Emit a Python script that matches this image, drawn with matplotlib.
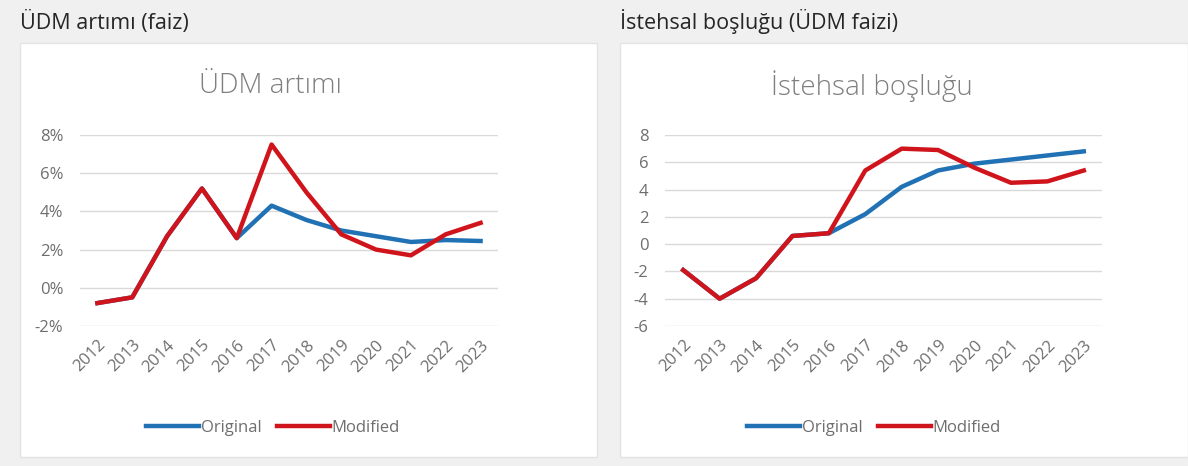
import numpy as np
import matplotlib.pyplot as plt
from matplotlib.patches import Rectangle

years = ["2012", "2013", "2014", "2015", "2016", "2017", "2018", "2019", "2020", "2021", "2022", "2023"]

# UDM artimi (%)
gdp_original = [-0.8, -0.5, 2.7, 5.2, 2.6, 4.3, 3.55, 3.0, 2.7, 2.4, 2.5, 2.45]
gdp_modified = [-0.8, -0.5, 2.7, 5.2, 2.6, 7.5, 5.0, 2.8, 2.0, 1.7, 2.8, 3.4]

# Istehsal boslugu
gap_original = [-1.9, -4.0, -2.5, 0.6, 0.8, 2.2, 4.2, 5.4, 5.9, 6.2, 6.5, 6.8]
gap_modified = [-1.9, -4.0, -2.5, 0.6, 0.8, 5.4, 7.0, 6.9, 5.6, 4.5, 4.6, 5.4]

BLUE = "#2171b5"
RED = "#d0141c"
GRID = "#d9d9d9"
TXT = "#6e6e6e"

plt.rcParams['font.family'] = ['Open Sans', 'DejaVu Sans']

W, H = 1188, 466
fig = plt.figure(figsize=(W / 100, H / 100), dpi=100)
fig.patch.set_facecolor("#f0f0f0")


def px_box(x0, y0, x1, y1):
    # pixel box (top-left origin) -> figure fraction rect
    return [x0 / W, 1 - y1 / H, (x1 - x0) / W, (y1 - y0) / H]


# white panels
for x0, x1 in [(20, 597), (620, 1188)]:
    l, b, w, h = px_box(x0, 43, x1, 457)
    fig.patches.append(Rectangle((l, b), w, h, transform=fig.transFigure,
                                 facecolor="white", edgecolor="#e3e3e3", lw=1, zorder=-5))

fig.text(20 / W, 1 - 22 / H, "ÜDM artımı (faiz)", fontsize=15.5, color="#262626", va="center", ha="left")
fig.text(620 / W, 1 - 22 / H, "İstehsal boşluğu (ÜDM faizi)", fontsize=15.5, color="#262626", va="center", ha="left")


def draw(ax, orig, mod, ylim, yticks, fmt, title, title_x, legend_x):
    x = np.arange(len(years))
    ax.set_facecolor("white")
    ax.plot(x, orig, color=BLUE, lw=3.2, label="Original", solid_joinstyle="round", zorder=3)
    ax.plot(x, mod, color=RED, lw=3.2, label="Modified", solid_joinstyle="round", zorder=4)
    ax.set_xlim(-0.5, len(years) - 0.5)
    ax.set_ylim(*ylim)
    ax.set_yticks(yticks)
    ax.set_yticklabels([fmt(v) for v in yticks])
    ax.set_xticks(x)
    ax.set_xticklabels(years, rotation=45, ha="right", va="top", rotation_mode="anchor")
    ax.grid(axis="y", color=GRID, lw=1)
    ax.set_axisbelow(True)
    for s in ax.spines.values():
        s.set_visible(False)
    ax.tick_params(length=0, labelsize=12, colors=TXT)
    ax.tick_params(axis="y", pad=12)
    ax.tick_params(axis="x", pad=8)
    fig.text(title_x / W, 1 - 86 / H, title, fontsize=20, color="#7f7f7f",
             fontweight="light", ha="center", va="center")
    fig.legend(*ax.get_legend_handles_labels(), loc="center", ncol=2,
               bbox_to_anchor=(legend_x / W, 1 - 428 / H), frameon=False,
               fontsize=12, handlelength=3.2, handletextpad=0.1, columnspacing=0.9,
               labelcolor=TXT)


ax1 = fig.add_axes(px_box(80, 135, 498, 326))
draw(ax1, gdp_original, gdp_modified, (-2, 8), [-2, 0, 2, 4, 6, 8],
     lambda v: f"{v}%", "ÜDM artımı", 270, 273)

ax2 = fig.add_axes(px_box(665, 135, 1102, 326))
draw(ax2, gap_original, gap_modified, (-6, 8), [-6, -4, -2, 0, 2, 4, 6, 8],
     lambda v: f"{v}", "İstehsal boşluğu", 872, 874)

fig.savefig("out.png", dpi=100, facecolor=fig.get_facecolor())
